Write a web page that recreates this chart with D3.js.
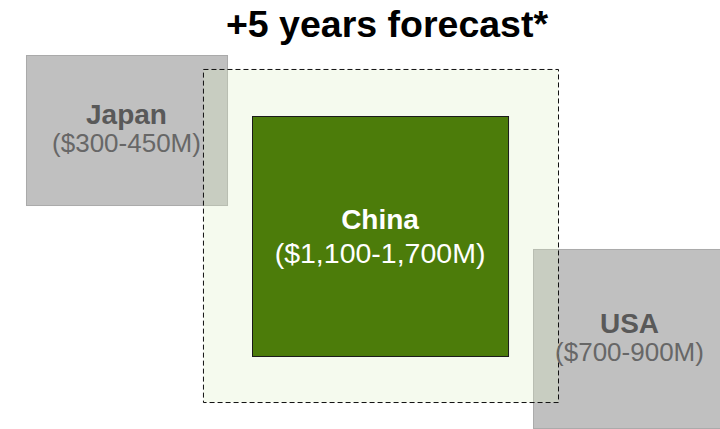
<!DOCTYPE html>
<html>
<head>
<meta charset="utf-8">
<script src="https://cdn.jsdelivr.net/npm/d3@7"></script>
<style>
  body { margin: 0; background: #fff; }
  svg { display: block; font-family: "Liberation Sans", Arial, sans-serif; }
</style>
</head>
<body>
<div id="chart"></div>
<script>
// market names and forecast ranges (USD millions)
var markets = ["Japan", "USA", "China"];
var rangeLow = [300, 700, 1100];
var rangeHigh = [450, 900, 1700];
var title = "+5 years forecast*";

var width = 720,
    height = 429;

// slide layout in percent of the slide
var x = d3.scaleLinear().domain([0, 100]).range([0, width]);
var y = d3.scaleLinear().domain([0, 100]).range([0, height]);

var fmt = d3.format(",");

var svg = d3.select("#chart")
    .append("svg")
    .attr("width", width)
    .attr("height", height);

// box layout per market: left, top, right, bottom (percent)
var boxes = {
    Japan: [3.61, 12.82, 31.53, 47.79],
    USA: [74.03, 58.04, 100.9, 99.77],
    China: [35.0, 27.04, 70.56, 82.98]
};
var zone = [28.19, 16.08, 77.5, 93.71];

var data = markets.map(function (m, i) {
    return {name: m, low: rangeLow[i], high: rangeHigh[i], box: boxes[m]};
});

var others = data.filter(function (d) { return d.name != "China"; });
var china = data.filter(function (d) { return d.name == "China"; });

svg.append("g").selectAll("rect")
    .data(others)
    .enter()
    .append("rect")
    .attr("x", function (d) { return x(d.box[0]) + 0.5; })
    .attr("y", function (d) { return y(d.box[1]) + 0.5; })
    .attr("width", function (d) { return x(d.box[2]) - x(d.box[0]); })
    .attr("height", function (d) { return y(d.box[3]) - y(d.box[1]); })
    .attr("fill", "#c0c0c0")
    .attr("stroke", "#aaaaaa");

// light green forecast zone
svg.append("rect")
    .attr("x", x(zone[0]) + 0.5)
    .attr("y", y(zone[1]) + 0.5)
    .attr("width", x(zone[2]) - x(zone[0]))
    .attr("height", y(zone[3]) - y(zone[1]))
    .attr("fill", "#dcefc4")
    .attr("fill-opacity", 0.29);

svg.append("g").selectAll("rect")
    .data(china)
    .enter()
    .append("rect")
    .attr("x", function (d) { return x(d.box[0]) + 0.5; })
    .attr("y", function (d) { return y(d.box[1]) + 0.5; })
    .attr("width", function (d) { return x(d.box[2]) - x(d.box[0]); })
    .attr("height", function (d) { return y(d.box[3]) - y(d.box[1]); })
    .attr("fill", "#4c7c0a")
    .attr("stroke", "#1a1a1a");

svg.append("rect")
    .attr("x", x(zone[0]) + 0.5)
    .attr("y", y(zone[1]) + 0.5)
    .attr("width", x(zone[2]) - x(zone[0]))
    .attr("height", y(zone[3]) - y(zone[1]))
    .attr("fill", "none")
    .attr("stroke", "#111")
    .attr("stroke-dasharray", "5,3");

// labels
var labels = svg.append("g").selectAll("g")
    .data(data)
    .enter()
    .append("g")
    .attr("transform", function (d) {
        var cx = (x(d.box[0]) + x(Math.min(d.box[2], 100.83))) / 2;
        var cy = (y(d.box[1]) + y(Math.min(d.box[3], 99.77))) / 2;
        return "translate(" + cx + "," + cy + ")";
    });

labels.append("text")
    .attr("text-anchor", "middle")
    .attr("y", function (d) { return d.name == "China" ? -7 : -6; })
    .attr("font-size", 28)
    .attr("font-weight", "bold")
    .attr("fill", function (d) { return d.name == "China" ? "#fff" : "#595959"; })
    .text(function (d) { return d.name; });

labels.append("text")
    .attr("text-anchor", "middle")
    .attr("y", function (d) { return d.name == "China" ? 27 : 22; })
    .attr("font-size", function (d) { return d.name == "China" ? 28.5 : 26; })
    .attr("fill", function (d) { return d.name == "China" ? "#fff" : "#676767"; })
    .text(function (d) { return "($" + fmt(d.low) + "-" + fmt(d.high) + "M)"; });

svg.append("text")
    .attr("x", x(53.75))
    .attr("y", 37)
    .attr("text-anchor", "middle")
    .attr("font-size", 37.5)
    .attr("font-weight", "bold")
    .attr("fill", "#000")
    .text(title);
</script>
</body>
</html>
